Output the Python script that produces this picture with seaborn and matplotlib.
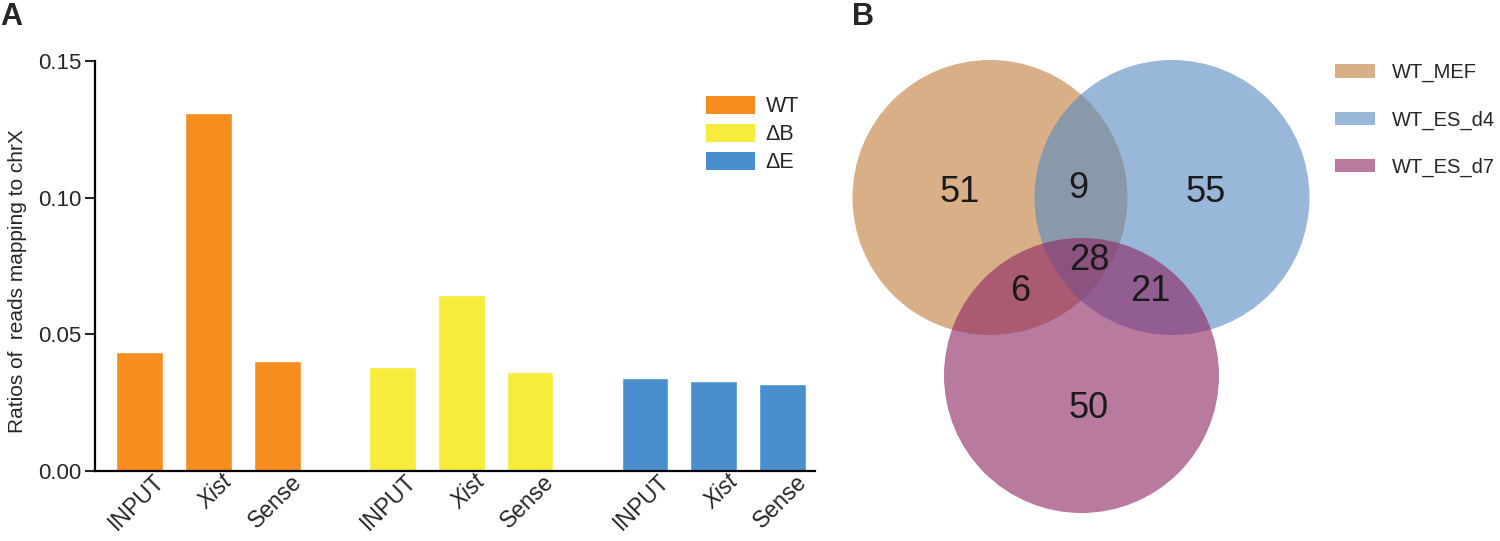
import numpy as np
import pandas as pd
import matplotlib
matplotlib.use('Agg')
import matplotlib.pyplot as plt
import seaborn as sns
from matplotlib.patches import Patch, Circle

# Panel A data
genotypes = ['WT', 'ΔB', 'ΔE']
samples = ['INPUT', 'Xist', 'Sense']
ratio_wt = [0.0435, 0.131, 0.0402]
ratio_db = [0.038, 0.0644, 0.0362]
ratio_de = [0.034, 0.033, 0.0318]
bar_colors = ['#F78D1F', '#F7EB3B', '#4A8FCD']

# Panel B data
venn_sets = ['WT_MEF', 'WT_ES_d4', 'WT_ES_d7']
venn_colors = ['#C07E3C', '#5A8CC1', '#8E2866']
only_mef, only_d4, only_d7 = 51, 55, 50
mef_d4, mef_d7, d4_d7, all_three = 9, 6, 21, 28

sns.set_style('white')
plt.rcParams['font.family'] = ['Liberation Sans', 'DejaVu Sans']

W, H = 1500, 541
fig = plt.figure(figsize=(W / 100, H / 100), dpi=100)

# === Panel A: bar chart ===
group_gap = 3.67
rows = []
for g, vals in enumerate([ratio_wt, ratio_db, ratio_de]):
    for s, v in enumerate(vals):
        rows.append({'pos': g * group_gap + s, 'ratio': v,
                     'genotype': genotypes[g], 'sample': samples[s]})
df = pd.DataFrame(rows)

axA = fig.add_axes([95 / W, (H - 471) / H, 720 / W, 410 / H])
sns.barplot(data=df, x='pos', y='ratio', hue='genotype', native_scale=True,
            palette=dict(zip(genotypes, bar_colors)), width=0.68,
            saturation=1, legend=False, ax=axA)
axA.set_xlim(-0.65, df['pos'].max() + 0.47)
axA.set_ylim(0, 0.15)
axA.set_yticks([0, 0.05, 0.10, 0.15])
axA.set_yticklabels(['0.00', '0.05', '0.10', '0.15'], fontsize=16)
# labels end a little right of the bar centre
axA.set_xticks(df['pos'] + 0.3)
axA.set_xticklabels(df['sample'], rotation=45, ha='right', va='center',
                    rotation_mode='anchor', fontsize=16.5)
for lab in axA.get_xticklabels():
    if lab.get_text() == 'Xist':
        lab.set_fontstyle('italic')
axA.tick_params(axis='x', length=0, pad=5)
axA.tick_params(axis='y', length=7, width=1.5, direction='out', left=True, pad=3)
axA.set_xlabel('')
axA.set_ylabel('Ratios of  reads mapping to chrX', fontsize=15)
axA.yaxis.set_label_coords(-0.094, 0.463)
sns.despine(ax=axA)
for sp in ['left', 'bottom']:
    axA.spines[sp].set_linewidth(1.6)
    axA.spines[sp].set_color('black')

handlesA = [Patch(facecolor=c, edgecolor='none', label=l) for c, l in zip(bar_colors, genotypes)]
axA.legend(handles=handlesA, loc='upper left', bbox_to_anchor=(0.849, 0.915),
           frameon=False, fontsize=15.5, handlelength=2.28, handleheight=0.93,
           labelspacing=0.3, handletextpad=0.47, borderpad=0, borderaxespad=0)

# === Panel B: Venn diagram ===
axB = fig.add_axes([840 / W, (H - 530) / H, 480 / W, 490 / H])
axB.set_xlim(840, 1320)
axB.set_ylim(530, 40)
axB.set_aspect('equal')
axB.axis('off')

r = 137.5
centers = [(990, 197.5), (1172, 197.5), (1081.5, 375.5)]
for (cx, cy), c in zip(centers, venn_colors):
    axB.add_patch(Circle((cx, cy), r, facecolor=c, edgecolor='none', alpha=0.62))

counts = [only_mef, mef_d4, only_d4, all_three, mef_d7, d4_d7, only_d7]
spots = [(960, 193), (1078, 189), (1206, 193), (1089, 261),
         (1020, 292), (1150, 292), (1089, 409)]
for n, (x, y) in zip(counts, spots):
    axB.text(x, y, str(n), fontsize=26, ha='center', va='center', color='#1a1a1a')

handlesB = [Patch(facecolor=c, edgecolor='none', alpha=0.62, label=l)
            for c, l in zip(venn_colors, venn_sets)]
fig.legend(handles=handlesB, loc='upper left', bbox_to_anchor=(1335 / W, (H - 63) / H),
           frameon=False, fontsize=14.5, handlelength=2.0, handleheight=0.64,
           labelspacing=1.4, handletextpad=0.85, borderpad=0, borderaxespad=0)

# panel letters
fig.text(0 / W, 1 - 2 / H, 'A', fontsize=22, fontweight='bold', ha='left', va='top')
fig.text(852 / W, 1 - 2 / H, 'B', fontsize=22, fontweight='bold', ha='left', va='top')

fig.savefig('out.png', dpi=100)
